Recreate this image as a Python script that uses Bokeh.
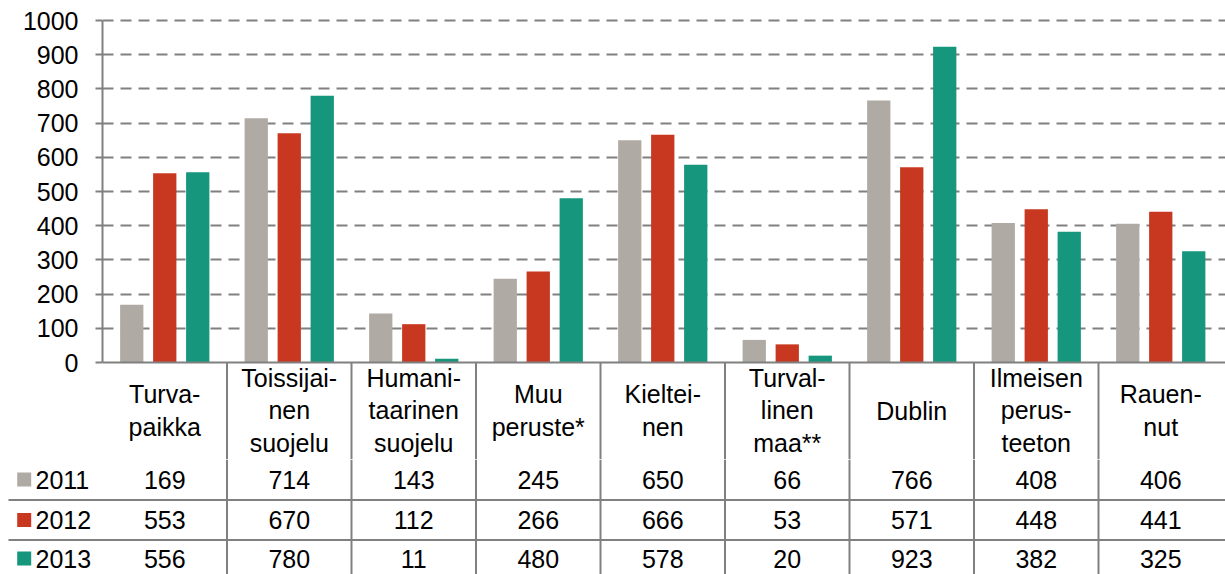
from bokeh.plotting import figure
from bokeh.models import Range1d, FixedTicker
from bokeh.embed import file_html
from bokeh.resources import INLINE
from bokeh.core.properties import value

# ---------------- data ----------------
categories = ["Turva-\npaikka", "Toissijai-\nnen\nsuojelu", "Humani-\ntaarinen\nsuojelu",
              "Muu\nperuste*", "Kieltei-\nnen", "Turval-\nlinen\nmaa**", "Dublin",
              "Ilmeisen\nperus-\nteeton", "Rauen-\nnut"]
years = ["2011", "2012", "2013"]
v2011 = [169, 714, 143, 245, 650, 66, 766, 408, 406]
v2012 = [553, 670, 112, 266, 666, 53, 571, 448, 441]
v2013 = [556, 780, 11, 480, 578, 20, 923, 382, 325]
series = [v2011, v2012, v2013]
colors = ["#AFABA4", "#C8371F", "#16967D"]
y_ticks = [0, 100, 200, 300, 400, 500, 600, 700, 800, 900, 1000]

# ---------------- layout (pixel constants) ----------------
FONT = "Liberation Sans"
FS = "25px"
GRAY = "#808080"
W, H = 1225, 574
AXIS_X = 102          # page x of the value axis
CAT_END_X = 1222.5    # page x of the right edge of the last category
Y0, Y1000 = 362, 20   # page y of 0 and 1000
SPLIT = 459           # page y where the chart canvas ends and the row table begins
PAD_TOP = 3
n = len(categories)
px_per_cat = (CAT_END_X - AXIS_X) / n
px_per_unit = (Y0 - Y1000) / 1000
x_end = n + (W - CAT_END_X) / px_per_cat
TOP_H = SPLIT
TABLE_H = H - SPLIT


def px_to_x(page_x):
    return (page_x - AXIS_X) / px_per_cat


def cy(page_y):
    return (Y0 - page_y) / px_per_unit


def tv(page_y):
    return page_y - SPLIT


y_bot = cy(SPLIT)

# ---------------- chart + header row ----------------
top = figure(width=W, height=TOP_H, x_range=Range1d(0, x_end),
             y_range=Range1d(y_bot, 1000 + PAD_TOP / px_per_unit),
             output_backend="svg", toolbar_location=None, x_axis_location=None,
             min_border_left=AXIS_X, min_border_right=0,
             min_border_top=Y1000 - PAD_TOP, min_border_bottom=0)
top.outline_line_color = None
top.xgrid.visible = False
top.background_fill_color = "white"
top.border_fill_color = "white"

ya = top.yaxis[0]
ya.ticker = FixedTicker(ticks=y_ticks)
ya.bounds = (0, 1000)
ya.axis_line_color = GRAY
ya.axis_line_width = 2
ya.major_tick_line_color = GRAY
ya.major_tick_line_width = 2
ya.major_tick_out = 7
ya.major_tick_in = 0
ya.minor_tick_line_color = None
ya.major_label_text_font = FONT
ya.major_label_text_font_size = FS
ya.major_label_text_color = "black"
ya.major_label_standoff = 17

top.ygrid.ticker = FixedTicker(ticks=y_ticks[1:])
top.ygrid.grid_line_color = GRAY
top.ygrid.grid_line_width = 2
top.ygrid.grid_line_dash = "11 7"

offsets = [-0.265, 0.0, 0.265]
bar_w = 0.187
for vals, col, off in zip(series, colors, offsets):
    xs = [i + 0.5 + off for i in range(n)]
    top.vbar(x=xs, top=vals, bottom=0, width=bar_w, fill_color=col, line_color=None)

bx = list(range(1, n))
# table top border and the upper part of the column separators
top.segment(x0=[0], y0=[0], x1=[x_end], y1=[0], line_color=GRAY, line_width=2)
top.segment(x0=bx, y0=[0] * len(bx), x1=bx, y1=[y_bot] * len(bx),
            line_color=GRAY, line_width=2)

# header labels (category names)
top.text(x=[i + 0.5 for i in range(n)], y=[cy(410)] * n, text=categories,
         text_align="center", text_baseline="middle", text_font=value(FONT),
         text_font_size=FS, text_line_height=1.17, text_color="black")

# ---------------- data rows ----------------
table = figure(width=W, height=TABLE_H, x_range=Range1d(px_to_x(0), x_end),
               y_range=Range1d(TABLE_H, 0), output_backend="svg", toolbar_location=None,
               x_axis_location=None, y_axis_location=None,
               min_border_left=0, min_border_right=0, min_border_top=0, min_border_bottom=0)
table.grid.visible = False
table.outline_line_color = None
table.background_fill_color = "white"
table.border_fill_color = "white"

row_v = [tv(479), tv(519.5), tv(558)]
sep_v = [tv(499.5), tv(539.5)]

table.segment(x0=[px_to_x(8)] * len(sep_v), y0=sep_v, x1=[x_end] * len(sep_v), y1=sep_v,
              line_color=GRAY, line_width=2)
table.segment(x0=bx, y0=[0] * len(bx), x1=bx, y1=[TABLE_H] * len(bx),
              line_color=GRAY, line_width=2)

for yr, vals, col, rv in zip(years, series, colors, row_v):
    table.text(x=[i + 0.5 for i in range(n)], y=[rv] * n, text=[str(v) for v in vals],
               text_align="center", text_baseline="middle", text_font=value(FONT),
               text_font_size=FS, text_color="black")
    table.rect(x=[px_to_x(23.7)], y=[rv], width=14, height=14, width_units="screen",
               height_units="screen", fill_color=col, line_color=None)
    table.text(x=[px_to_x(35)], y=[rv], text=[yr], text_align="left",
               text_baseline="middle", text_font=value(FONT), text_font_size=FS,
               text_color="black")

# two independent roots stacked vertically (no frame alignment between them)
open("out.html", "w").write(file_html([top, table], INLINE))
